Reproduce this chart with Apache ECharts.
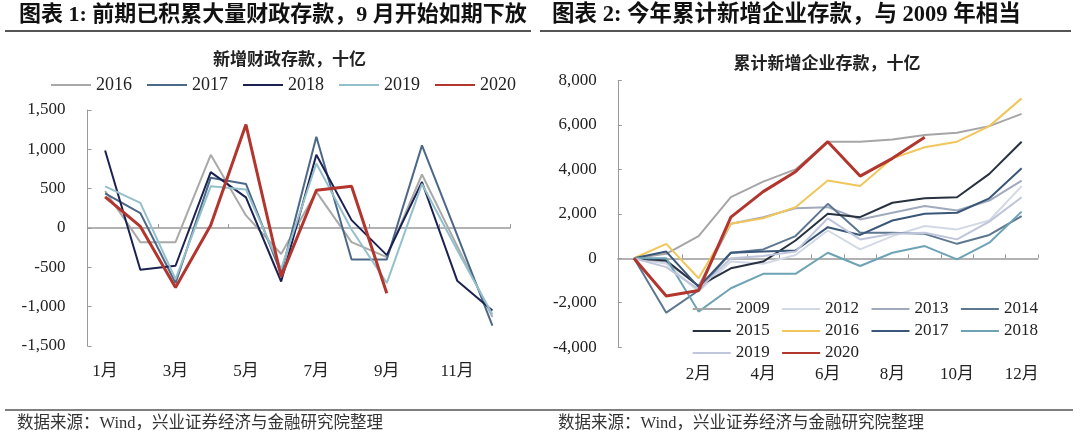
<!DOCTYPE html>
<html><head><meta charset="utf-8">
<script src="https://cdn.jsdelivr.net/npm/echarts@6/dist/echarts.min.js"></script>
<style>html,body{margin:0;padding:0;background:#fff}#wrap{position:relative;width:1080px;height:439px}#cl{position:absolute;left:0;top:0;width:540px;height:439px}#cr{position:absolute;left:540px;top:0;width:540px;height:439px}</style>
</head><body><div id="wrap"><div id="cl"></div><div id="cr"></div></div>
<script>
// ---------- texts ----------
const titleLeft = '图表 1: 前期已积累大量财政存款，9 月开始如期下放';
const titleRight = '图表 2: 今年累计新增企业存款，与 2009 年相当';
const subLeft = '新增财政存款，十亿';
const subRight = '累计新增企业存款，十亿';
const sourceText = '数据来源：Wind，兴业证券经济与金融研究院整理';

// ---------- left chart data (新增财政存款, 十亿) ----------
const monthsLeft = ['1月','2月','3月','4月','5月','6月','7月','8月','9月','10月','11月','12月'];
const namesLeft = ['2016','2017','2018','2019','2020'];
const fiscal2016 = [470, -180, -180, 930, 160, -330, 460, -180, -370, 680, -230, -1130];
const fiscal2017 = [440, 190, -700, 640, 560, -580, 1160, -400, -400, 1050, -90, -1240];
const fiscal2018 = [985, -530, -480, 710, 390, -680, 930, 100, -345, 585, -670, -1050];
const fiscal2019 = [530, 320, -650, 530, 490, -520, 820, -20, -700, 560, -280, -1100];
const fiscal2020 = [395, 20, -755, 35, 1315, -620, 480, 530, -830];

// ---------- right chart data (累计新增企业存款, 十亿) ----------
const monthsRight = ['', '1月','2月','3月','4月','5月','6月','7月','8月','9月','10月','11月','12月'];
const namesRight = ['2009','2012','2013','2014','2015','2016','2017','2018','2019','2020'];
const corp2009 = [0, 200, 1000, 2750, 3450, 4000, 5250, 5250, 5350, 5550, 5650, 5950, 6500];
const corp2012 = [0, -250, -1500, -150, -250, 150, 1250, 400, 1000, 1450, 1300, 1700, 3250];
const corp2013 = [0, -150, -1250, 1550, 1850, 2250, 2300, 1750, 2050, 2350, 2150, 2600, 3500];
const corp2014 = [0, -2450, -1450, 250, 400, 1000, 2450, 1150, 1150, 1100, 650, 1050, 1900];
const corp2015 = [0, -100, -1250, -450, -150, 800, 2000, 1850, 2500, 2700, 2750, 3800, 5250];
const corp2016 = [0, 650, -900, 1550, 1800, 2300, 3500, 3250, 4500, 5000, 5250, 5950, 7200];
const corp2017 = [0, 300, -1300, 250, 300, 350, 1400, 1050, 1700, 2000, 2050, 2700, 4050];
const corp2018 = [0, 0, -2400, -1350, -700, -700, 250, -350, 250, 550, -50, 700, 2100];
const corp2019 = [0, -400, -1400, 0, 100, 300, 1800, 850, 1100, 1150, 850, 1650, 2750];
const corp2020 = [0, -1700, -1450, 1850, 3000, 3900, 5250, 3700, 4500, 5450];

// ---------- helpers ----------
const serif = '"Liberation Serif", "Noto Sans CJK SC", serif';
const fmt = v => v.toLocaleString('en-US');
function ls(name, data, color, width) {
  return { name, type: 'line', data, symbol: 'none', smooth: false,
    lineStyle: { color, width }, itemStyle: { color },
    xAxisIndex: 0, yAxisIndex: 0, emphasis: { disabled: true }, silent: true };
}
function headerGraphics(title, titleX, titleSize, sub, subX, subY, ruleX1, ruleX2, botX1, botX2, srcX) {
  return [
    { type: 'text', x: titleX, y: 15, style: { text: title, font: 'bold ' + titleSize + 'px ' + serif, fill: '#111', textVerticalAlign: 'middle' } },
    { type: 'line', shape: { x1: ruleX1, y1: 31, x2: ruleX2, y2: 31 }, style: { stroke: '#555', lineWidth: 2 } },
    { type: 'text', x: subX, y: subY, style: { text: sub, font: 'bold 17px ' + serif, fill: '#222', textAlign: 'center', textVerticalAlign: 'middle' } },
    { type: 'line', shape: { x1: botX1, y1: 410, x2: botX2, y2: 410 }, style: { stroke: '#555', lineWidth: 1.5 } },
    { type: 'text', x: srcX, y: 424, style: { text: sourceText, font: '16.5px ' + serif, fill: '#333', textVerticalAlign: 'middle' } }
  ];
}
function axes(cats, gridObj, yMin, yMax, yInt, tickInt, labelMargin, yMargin) {
  return {
    grid: gridObj,
    xAxis: [
      { type: 'category', data: cats, boundaryGap: true,
        axisLine: { onZero: true, lineStyle: { color: '#999', width: 1.5 } },
        axisTick: { show: true, inside: true, length: 4, interval: tickInt, lineStyle: { color: '#999' } },
        axisLabel: { show: false }, splitLine: { show: false } },
      { type: 'category', data: cats, boundaryGap: true, position: 'bottom',
        axisLine: { show: false, onZero: false }, axisTick: { show: false },
        axisLabel: { interval: 1, margin: labelMargin, fontFamily: serif, fontSize: 17, color: '#222' },
        splitLine: { show: false } }
    ],
    yAxis: { type: 'value', min: yMin, max: yMax, interval: yInt,
      axisLine: { show: true, lineStyle: { color: '#999' } },
      axisTick: { show: true, inside: true, length: 4, lineStyle: { color: '#999' } },
      splitLine: { show: false },
      axisLabel: { formatter: fmt, margin: yMargin, fontFamily: serif, fontSize: 17, color: '#222' } }
  };
}

// ---------- left chart ----------
const chartL = echarts.init(document.getElementById('cl'));
const optL = Object.assign({
  animation: false,
  graphic: headerGraphics(titleLeft, 19, 22, subLeft, 289.6, 60.7, 5, 531, 5, 540, 17),
  legend: { left: 50, top: 76, padding: 0, itemWidth: 40, itemHeight: 14, itemGap: 14,
    itemStyle: { opacity: 0 },
    textStyle: { fontFamily: serif, fontSize: 18, color: '#222' }, data: namesLeft, selectedMode: false },
  series: [
    ls(namesLeft[0], fiscal2016, '#a9a9a9', 2),
    ls(namesLeft[1], fiscal2017, '#4c6888', 2),
    ls(namesLeft[2], fiscal2018, '#1b2252', 2),
    ls(namesLeft[3], fiscal2019, '#94c0cb', 2),
    ls(namesLeft[4], fiscal2020, '#b2352e', 3)
  ]
}, axes(monthsLeft, { left: 87.5, top: 110, width: 422.5, height: 236 }, -1500, 1500, 500, 1, 17, 22));
chartL.setOption(optL);

// ---------- right chart ----------
const chartR = echarts.init(document.getElementById('cr'));
const legR = (data, top) => ({ left: 151.7, top, padding: 0, itemWidth: 38, itemHeight: 14, itemGap: 11.4,
  itemStyle: { opacity: 0 },
  textStyle: { fontFamily: serif, fontSize: 17, color: '#222' }, data, selectedMode: false });
const optR = Object.assign({
  animation: false,
  graphic: headerGraphics(titleRight, 12, 22.5, subRight, 287, 64.8, 0, 531, 0, 533, 18),
  legend: [
    legR(namesRight.slice(0, 4), 300.5),
    legR(namesRight.slice(4, 8), 322.5),
    legR(namesRight.slice(8, 10), 344.5)
  ],
  series: [
    ls(namesRight[0], corp2009, '#a6a6a6', 2),
    ls(namesRight[1], corp2012, '#d3d9e4', 2),
    ls(namesRight[2], corp2013, '#a1aabd', 2),
    ls(namesRight[3], corp2014, '#5d7790', 2),
    ls(namesRight[4], corp2015, '#27313f', 2),
    ls(namesRight[5], corp2016, '#f1c65a', 2),
    ls(namesRight[6], corp2017, '#3a5779', 2),
    ls(namesRight[7], corp2018, '#6ea3b5', 2),
    ls(namesRight[8], corp2019, '#bfc5db', 2),
    ls(namesRight[9], corp2020, '#b2352e', 3)
  ]
}, axes(monthsRight, { left: 77.8, top: 80.6, width: 420, height: 266.5 }, -4000, 8000, 2000, 0, 19, 21));
chartR.setOption(optR);
</script>
</body></html>
